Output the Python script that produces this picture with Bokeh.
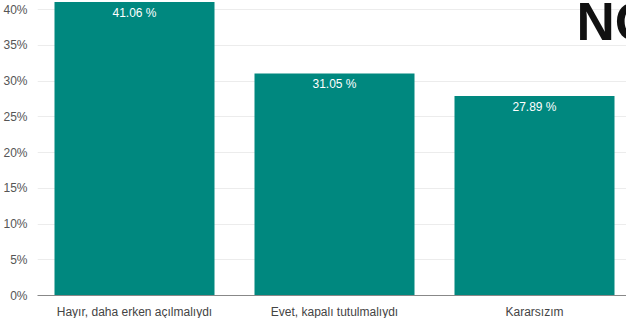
from bokeh.plotting import figure
from bokeh.models import ColumnDataSource, FixedTicker, Range1d, Label
from bokeh.embed import file_html
from bokeh.resources import INLINE

categories = ["Hayır, daha erken açılmalıydı", "Evet, kapalı tutulmalıydı", "Kararsızım"]
values = [41.06, 31.05, 27.89]
y_ticks = [0, 5, 10, 15, 20, 25, 30, 35, 40]
y_tick_labels = [f"{t}%" for t in y_ticks]

xs = [i + 0.5 for i in range(len(categories))]
labels = [f"{v:.2f} %" for v in values]

src = ColumnDataSource(dict(x=xs, top=values, label=labels))

p = figure(
    frame_width=592, frame_height=295,
    x_range=Range1d(0.015, 2.975), y_range=Range1d(0, 41.26),
    output_backend="svg", toolbar_location=None,
    min_border_left=26, min_border_right=0, min_border_top=0, min_border_bottom=0,
    background_fill_color="white", border_fill_color="white",
)
p.outline_line_color = None

p.vbar(x="x", top="top", width=0.8, source=src, fill_color="#00887F", line_color=None)
p.text(x="x", y="top", text="label", source=src, text_align="center",
       text_baseline="middle", y_offset=11, text_color="white",
       text_font_size="12px", text_font={"value": "Liberation Sans"})

# y axis
p.yaxis.ticker = FixedTicker(ticks=y_ticks)
p.yaxis.major_label_overrides = {t: l for t, l in zip(y_ticks, y_tick_labels)}
p.yaxis.axis_line_color = None
p.yaxis.major_tick_line_color = None
p.yaxis.minor_tick_line_color = None
p.yaxis.major_label_standoff = 4
p.yaxis.major_label_text_font = "Liberation Sans"
p.yaxis.major_label_text_font_size = "12px"
p.yaxis.major_label_text_color = "#555555"

# x axis
p.xaxis.ticker = FixedTicker(ticks=xs)
p.xaxis.major_label_overrides = {x: c for x, c in zip(xs, categories)}
p.xaxis.axis_line_color = "#888888"
p.xaxis.major_tick_line_color = None
p.xaxis.minor_tick_line_color = None
p.xaxis.major_label_standoff = 3
p.xaxis.major_label_text_font = "Liberation Sans"
p.xaxis.major_label_text_font_size = "12px"
p.xaxis.major_label_text_color = "#444444"

p.xgrid.grid_line_color = None
p.ygrid.grid_line_color = "#ececec"
p.ygrid.ticker = FixedTicker(ticks=y_ticks)

logo = Label(x=2.71, y=42.4, text="NO", text_font="Liberation Sans", text_font_style="bold",
             text_font_size="53px", text_color="#111111", text_baseline="top")
p.add_layout(logo)

open("out.html", "w").write(file_html(p, INLINE))
